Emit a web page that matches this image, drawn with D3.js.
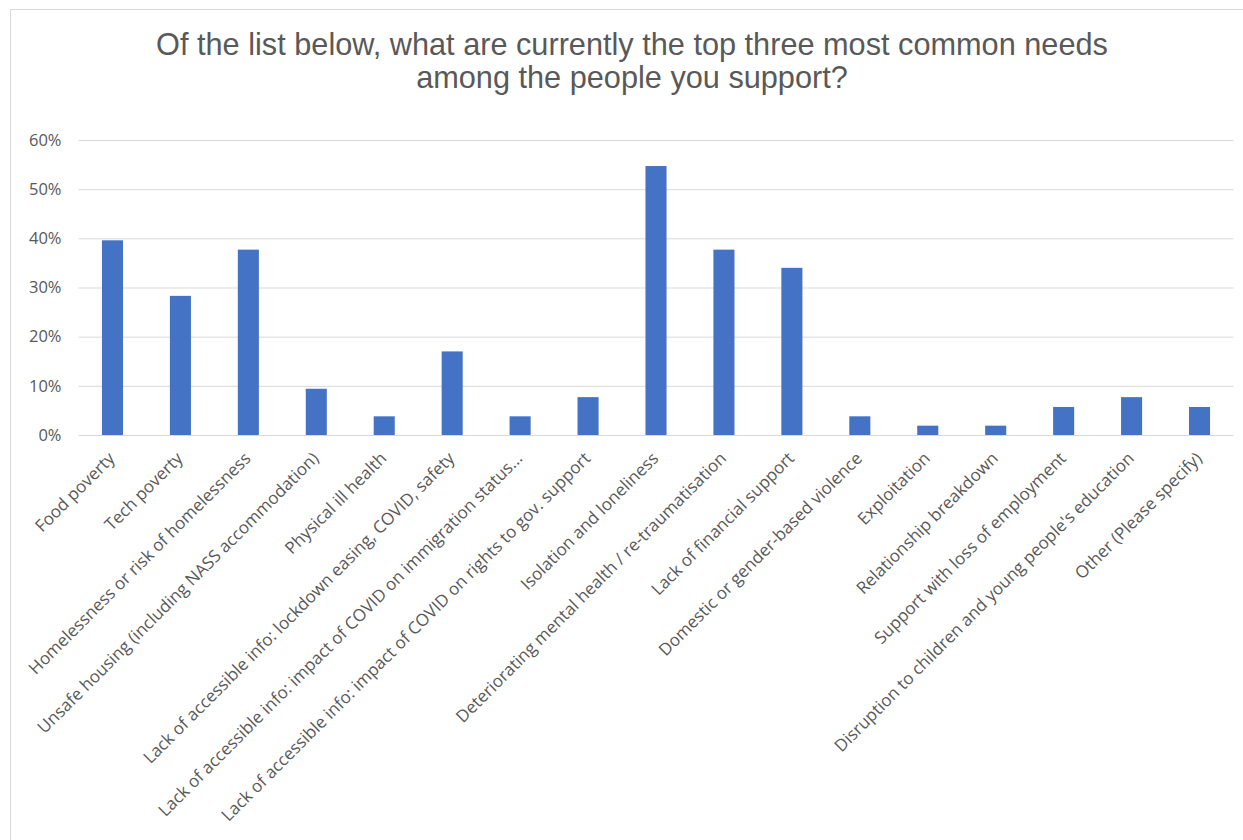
<!DOCTYPE html>
<html>
<head>
<meta charset="utf-8">
<script src="https://cdn.jsdelivr.net/npm/d3@7"></script>
<style>
  html, body { margin: 0; padding: 0; background: #fff; }
  svg { display: block; }
</style>
</head>
<body>
<script>
const titleLines = [
  "Of the list below, what are currently the top three most common needs",
  "among the people you support?"
];
const categories = [
  "Food poverty",
  "Tech poverty",
  "Homelessness or risk of homelessness",
  "Unsafe housing (including NASS accommodation)",
  "Physical ill health",
  "Lack of accessible info: lockdown easing, COVID, safety",
  "Lack of accessible info: impact of COVID on immigration status...",
  "Lack of accessible info: impact of COVID on rights to gov. support",
  "Isolation and loneliness",
  "Deteriorating mental health / re-traumatisation",
  "Lack of financial support",
  "Domestic or gender-based violence",
  "Exploitation",
  "Relationship breakdown",
  "Support with loss of employment",
  "Disruption to children and young people's education",
  "Other (Please specify)"
];
const values = [0.396, 0.283, 0.377, 0.094, 0.038, 0.170, 0.038, 0.077, 0.547, 0.377, 0.340, 0.038, 0.019, 0.019, 0.057, 0.077, 0.057];
const yTicks = [0, 0.1, 0.2, 0.3, 0.4, 0.5, 0.6];

const W = 1243, H = 840;
const plotLeft = 78.5, plotRight = 1233.5, plotTop = 140, plotBottom = 435;

const svg = d3.select("body").append("svg").attr("width", W).attr("height", H);

// frame
svg.append("line").attr("x1", 10).attr("x2", W).attr("y1", 9.5).attr("y2", 9.5)
  .attr("stroke", "#d9d9d9").attr("stroke-width", 1);
svg.append("line").attr("x1", 10.5).attr("x2", 10.5).attr("y1", 9).attr("y2", H)
  .attr("stroke", "#d9d9d9").attr("stroke-width", 1);

// title
svg.append("text")
  .attr("x", 632).attr("y", 55)
  .attr("text-anchor", "middle")
  .attr("font-family", "'Liberation Sans', Arial, sans-serif")
  .attr("font-size", 30.7)
  .attr("fill", "#595959")
  .selectAll("tspan").data(titleLines).join("tspan")
  .attr("x", 632).attr("dy", (d, i) => i === 0 ? 0 : 33)
  .text(d => d);

const x = d3.scaleBand().domain(categories).range([plotLeft, plotRight])
  .paddingInner(0.69).paddingOuter(0.345);
const y = d3.scaleLinear().domain([0, 0.6]).range([plotBottom, plotTop]);

// y axis with gridlines
const yAxis = d3.axisLeft(y).tickValues(yTicks).tickFormat(d3.format(".0%"))
  .tickSize(-(plotRight - plotLeft)).tickPadding(17);
const gy = svg.append("g").attr("transform", `translate(${plotLeft},0)`).call(yAxis);
gy.select(".domain").remove();
gy.selectAll(".tick line").attr("stroke", "#d9d9d9").attr("stroke-width", 1);
gy.selectAll(".tick text")
  .attr("font-family", "'Open Sans', sans-serif")
  .attr("font-size", 16.5)
  .attr("fill", "#595959");

// bars
svg.append("g").selectAll("rect").data(values).join("rect")
  .attr("x", (d, i) => x(categories[i]))
  .attr("y", d => y(d))
  .attr("width", x.bandwidth())
  .attr("height", d => y(0) - y(d))
  .attr("fill", "#4472C4");

// x axis labels
const xAxis = d3.axisBottom(x).tickSize(0).tickPadding(0);
const gx = svg.append("g").attr("transform", `translate(0,${plotBottom})`).call(xAxis);
gx.select(".domain").remove();
gx.selectAll(".tick text")
  .attr("font-family", "'Open Sans', sans-serif")
  .attr("font-size", 17)
  .attr("fill", "#595959")
  .attr("text-anchor", "end")
  .attr("x", 0).attr("y", 0).attr("dy", "0.7em")
  .attr("transform", "translate(-5,16) rotate(-45)");
</script>
</body>
</html>
